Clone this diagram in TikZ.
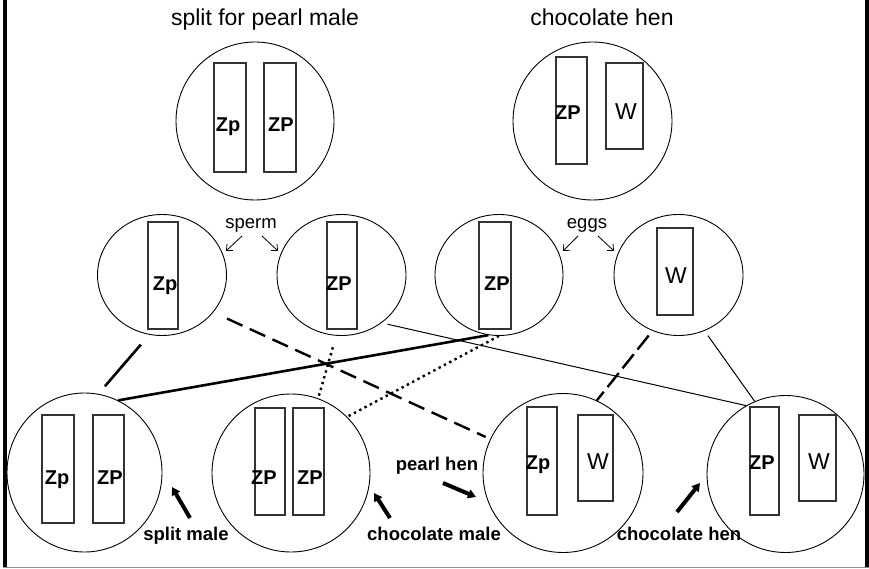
\documentclass[tikz,border=0pt]{standalone}
\usepackage{fontspec}
\setmainfont{Liberation Sans}
\usetikzlibrary{arrows.meta,shapes.geometric}
\begin{document}
\begin{tikzpicture}[x=1pt,y=-1pt,
  cell/.style={draw=black,line width=0.9pt,ellipse,inner sep=0pt},
  chrom/.style={draw=black!80,line width=1.2pt,inner sep=0pt},
  gene/.style={font=\fontsize{20}{20}\selectfont\bfseries,anchor=base,inner sep=0pt},
  wlab/.style={font=\fontsize{23}{23}\selectfont,anchor=base,inner sep=0pt},
  title/.style={font=\fontsize{23}{23}\selectfont,anchor=base,inner sep=0pt},
  small/.style={font=\fontsize{18.5}{18.5}\selectfont,anchor=base,inner sep=0pt},
  blab/.style={font=\fontsize{18.5}{18.5}\selectfont\bfseries,anchor=base,inner sep=0pt},
  thinarrow/.style={line width=0.8pt,-{Straight Barb[length=5pt,width=9pt]}},
  boldarrow/.style={line width=4pt,-{Triangle[length=8pt,width=9pt]}},
  thickline/.style={line width=2.6pt},
  dashline/.style={line width=2.4pt,dash pattern=on 17pt off 8pt},
  dotline/.style={line width=2.4pt,dash pattern=on 2.4pt off 3.6pt},
  thinline/.style={line width=1pt}]
\useasboundingbox (0,0) rectangle (869,569);
% frame
\draw[line width=3.4pt] (5,0) -- (5,568);
\draw[line width=3.5pt] (867,0) -- (867,568);
\draw[line width=1.5pt,black!45] (3,567.5) -- (869,567.5);

% titles
\node[title] (t1) at (265,26) {split for pearl male};
\node[title] (t2) at (602,26) {chocolate hen};

% parent cells
\node[cell,minimum width=158pt,minimum height=158pt] (A) at (255,121) {};
\node[cell,minimum width=159pt,minimum height=158pt] (B) at (592.5,121) {};
\node[chrom,minimum width=32pt,minimum height=109pt] (rA1) at (230,117.5) {};
\node[chrom,minimum width=32pt,minimum height=109pt] (rA2) at (280,117.5) {};
\node[chrom,minimum width=31pt,minimum height=107pt] (rB1) at (571.5,110.5) {};
\node[chrom,minimum width=37pt,minimum height=86pt] (rB2) at (624.5,106) {};
\node[gene] (lA1) at (228,131.5) {Zp};
\node[gene] (lA2) at (281,131.5) {ZP};
\node[gene] (lB1) at (568,119.5) {ZP};
\node[wlab] (lB2) at (626,119.5) {W};

% gametes
\node[cell,minimum width=129pt,minimum height=121pt] (C1) at (162,275) {};
\node[cell,minimum width=129pt,minimum height=121pt] (C2) at (341.5,275) {};
\node[cell,minimum width=128pt,minimum height=121pt] (C3) at (499,275) {};
\node[cell,minimum width=129pt,minimum height=121pt] (C4) at (678.5,275) {};
\node[chrom,minimum width=30pt,minimum height=107pt] (rC1) at (163,275.5) {};
\node[chrom,minimum width=30pt,minimum height=107pt] (rC2) at (342,275.5) {};
\node[chrom,minimum width=32pt,minimum height=107pt] (rC3) at (495,275.5) {};
\node[chrom,minimum width=36pt,minimum height=87pt] (rC4) at (675,271.5) {};
\node[gene] (lC1) at (165,290.7) {Zp};
\node[gene] (lC2) at (339,290.7) {ZP};
\node[gene] (lC3) at (497,290.7) {ZP};
\node[wlab] (lC4) at (676,283.5) {W};

\node[small] (sperm) at (251,229) {sperm};
\node[small] (eggs) at (587,229) {eggs};
\coordinate (s1a) at (242,236); \coordinate (s1b) at (226,251);
\coordinate (s2a) at (262,236); \coordinate (s2b) at (278,251);
\coordinate (e1a) at (578,236); \coordinate (e1b) at (563,251);
\coordinate (e2a) at (598,236); \coordinate (e2b) at (614,251);
\draw[thinarrow] (s1a) -- (s1b);
\draw[thinarrow] (s2a) -- (s2b);
\draw[thinarrow] (e1a) -- (e1b);
\draw[thinarrow] (e2a) -- (e2b);

% offspring
\node[cell,minimum width=155pt,minimum height=159pt] (D1) at (84.5,472.5) {};
\node[cell,minimum width=158pt,minimum height=158pt] (D2) at (291,473) {};
\node[cell,minimum width=160pt,minimum height=159pt] (D3) at (563,473) {};
\node[cell,minimum width=157pt,minimum height=157pt] (D4) at (785.5,474) {};
\node[chrom,minimum width=32pt,minimum height=108pt] (rD1a) at (58,469) {};
\node[chrom,minimum width=31pt,minimum height=108pt] (rD1b) at (108.5,469) {};
\node[chrom,minimum width=30pt,minimum height=107pt] (rD2a) at (270,461.5) {};
\node[chrom,minimum width=31pt,minimum height=107pt] (rD2b) at (308.5,461.5) {};
\node[chrom,minimum width=30pt,minimum height=108pt] (rD3a) at (542,461) {};
\node[chrom,minimum width=35pt,minimum height=86pt] (rD3b) at (595.5,458) {};
\node[chrom,minimum width=29pt,minimum height=108pt] (rD4a) at (764.5,461) {};
\node[chrom,minimum width=37pt,minimum height=86pt] (rD4b) at (817.5,458) {};
\node[gene] (lD1a) at (57,484) {Zp};
\node[gene] (lD1b) at (110,484) {ZP};
\node[gene] (lD2a) at (264,484) {ZP};
\node[gene] (lD2b) at (310,484) {ZP};
\node[gene] (lD3a) at (538,469.5) {Zp};
\node[wlab] (lD3b) at (598,469.5) {W};
\node[gene] (lD4a) at (762,469.5) {ZP};
\node[wlab] (lD4b) at (819,469.5) {W};

% crossing lines
\draw[thickline] (D1.65) -- (C3.260);
\draw[thickline,shorten <=13pt,shorten >=10pt] (C1.258) -- (D1.80);
\draw[dashline,shorten <=15pt,shorten >=5pt] (C1.-36) -- (D3.155);
\draw[thinline,shorten <=6pt] (C2.-50) -- (D4.120);
\draw[thinline,shorten <=6pt] (C4.-65) -- (D4.113);
\draw[dashline,dash pattern=on 18pt off 6pt,shorten <=6pt] (C4.245) -- (D3.65);
\draw[dotline,shorten <=12pt] (C2.265) -- (D2.70);
\draw[dotline] (C3.270) -- (D2.45);

% labels with bold arrows
\node[blab] (lsm) at (186,540) {split male};
\node[blab] (lcm) at (434,540) {chocolate male};
\node[blab] (lph) at (437,470) {pearl hen};
\node[blab] (lch) at (679,540) {chocolate hen};
\coordinate (smT) at (190,518); \coordinate (smH) at (172,487);
\coordinate (cmT) at (390,518); \coordinate (cmH) at (374,493);
\coordinate (phT) at (443,483); \coordinate (phH) at (476,497);
\coordinate (chT) at (677,512); \coordinate (chH) at (700,483);
\draw[boldarrow] (smT) -- (smH);
\draw[boldarrow] (cmT) -- (cmH);
\draw[boldarrow] (phT) -- (phH);
\draw[boldarrow] (chT) -- (chH);
\end{tikzpicture}
\end{document}
